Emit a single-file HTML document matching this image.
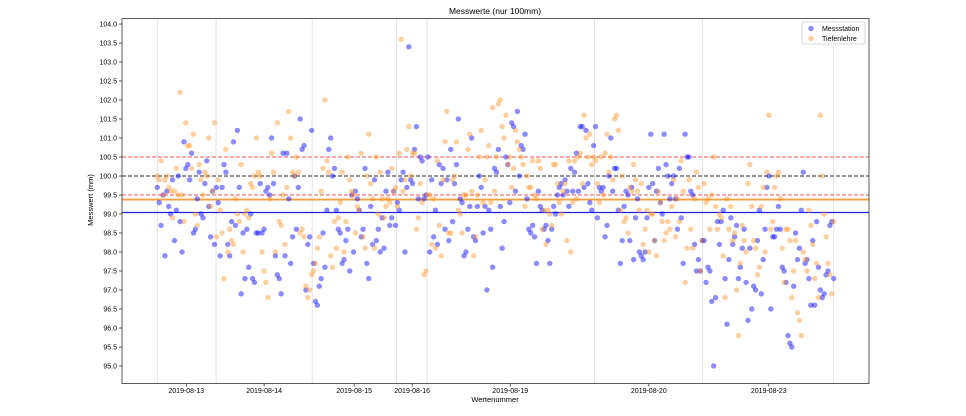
<!DOCTYPE html>
<html><head><meta charset="utf-8"><style>
html,body{margin:0;padding:0;background:#fff;}
svg{display:block;font-family:"Liberation Sans","DejaVu Sans",sans-serif;}
</style></head><body>
<svg id="chart" width="966" height="416" viewBox="0 0 966 416" xmlns="http://www.w3.org/2000/svg">
<rect x="0" y="0" width="966" height="416" fill="#fff"/>
<text x="495" y="14" font-size="8.5" text-anchor="middle" fill="#000">Messwerte (nur 100mm)</text>
<g id="grid"></g>
<g id="refs"></g>
<g id="pts"></g>
<rect x="122" y="18.5" width="747" height="365" fill="none" stroke="#333" stroke-width="0.8"/>
<g id="yax"></g>
<g id="xax"></g>
<text transform="translate(93,200) rotate(-90)" font-size="7.5" text-anchor="middle">Messwert (mm)</text>
<text x="495" y="402" font-size="7.5" text-anchor="middle">Wertenummer</text>
<g>
<rect x="802" y="22" width="63" height="22" fill="#fff" stroke="#ccc" stroke-width="0.8" rx="2"/>
<circle cx="811" cy="28.5" r="2.7" fill="#0000ff" fill-opacity="0.45"/>
<text x="822" y="31" font-size="7">Messstation</text>
<circle cx="811" cy="38.5" r="2.7" fill="#ff8c1a" fill-opacity="0.42"/>
<text x="822" y="41" font-size="7">Tiefenlehre</text>
</g>
</svg>
<script>
const blueValues=[99.7,99.3,98.7,99.5,97.9,99.6,99.2,99.0,99.9,98.3,99.1,100.0,98.8,98.0,100.9,100.2,100.3,99.9,100.6,98.5,98.6,99.4,100.1,99.0,98.9,99.8,100.4,99.2,98.4,99.6,
98.2,99.7,99.3,97.9,99.7,100.3,100.1,98.2,97.9,98.8,100.9,98.7,101.2,99.7,96.9,98.5,97.3,98.6,97.6,99.0,97.3,97.2,98.5,98.5,99.8,
98.5,98.6,99.6,99.7,99.5,101.0,99.8,97.9,97.4,97.3,96.9,100.6,97.9,100.6,99.4,97.7,98.4,100.0,98.6,99.7,101.5,100.7,100.8,97.0,98.2,98.4,101.2,97.7,96.7,96.6,97.1,97.3,98.5,97.6,99.1,
100.7,101.0,100.0,100.2,99.1,98.6,98.5,97.7,97.8,98.3,98.6,97.5,99.5,98.0,99.6,99.4,99.1,98.4,98.6,100.2,97.7,97.3,99.2,98.2,99.9,98.3,98.6,98.0,98.9,98.1,99.6,100.1,98.7,98.9,99.6,98.7,99.3,99.1,99.9,100.1,98.0,99.7,103.4,99.9,99.8,100.7,101.3,99.4,100.5,100.4,
99.4,99.5,100.5,98.0,99.9,98.4,99.1,98.2,100.3,99.8,100.2,98.6,99.9,98.3,100.7,98.8,99.8,100.3,101.5,99.4,99.3,97.9,98.0,98.6,99.2,101.0,98.4,98.3,99.2,100.0,99.7,98.5,99.2,97.0,99.1,98.6,97.6,100.2,100.1,100.7,99.2,98.1,98.8,100.5,100.3,99.3,101.4,101.3,99.6,101.7,100.0,100.8,100.7,101.1,99.4,98.6,
98.5,98.7,98.4,97.7,99.6,99.2,99.1,98.6,98.7,98.3,97.7,98.6,99.2,99.0,99.5,99.7,99.8,99.5,99.9,99.6,99.2,100.2,99.6,100.1,100.6,99.6,101.3,101.3,99.7,101.2,99.8,99.3,99.1,100.8,101.3,98.9,99.7,99.6,99.7,98.4,98.7,100.0,101.0,99.6,100.2,100.2,99.1,97.7,98.3,99.2,99.6,99.5,98.3,99.7,97.8,98.9,99.4,98.0,97.9,97.8,98.0,98.9,99.7,101.1,99.8,98.3,99.6,100.2,99.3,99.0,101.1,100.3,100.0,99.4,99.8,
100.0,99.4,98.6,100.2,98.9,97.7,101.1,100.5,100.5,99.6,99.5,98.2,97.5,97.8,97.5,98.3,98.3,97.2,97.6,97.5,96.7,95.0,96.8,98.8,98.2,98.8,99.1,97.3,96.1,97.8,98.9,98.2,98.4,98.7,97.3,97.6,98.1,98.6,97.2,96.2,98.1,96.5,97.1,97.0,98.3,99.1,96.9,97.8,98.6,99.7,100.0,96.5,
98.4,98.4,98.6,99.2,98.6,97.6,97.5,97.2,95.8,95.6,95.5,97.1,98.5,97.8,98.1,99.1,100.1,97.7,97.8,97.3,96.6,98.3,96.6,98.8,97.6,97.0,96.8,96.9,97.4,97.5,98.7,98.8,97.3];
const orangeValues=[100.0,99.9,100.4,99.5,99.9,100.0,99.7,99.6,98.9,99.6,100.2,99.5,102.2,99.5,98.8,101.4,100.8,100.8,100.2,101.1,99.0,98.7,100.3,99.9,99.5,100.1,100.0,101.0,99.2,99.6,
101.4,98.4,99.9,99.1,98.5,97.3,100.7,98.0,98.6,98.3,98.2,99.4,99.0,98.8,100.3,98.0,99.0,99.1,98.9,99.8,99.7,100.0,101.0,100.1,100.0,
98.0,97.5,97.2,96.8,99.4,100.6,100.1,98.0,101.4,98.8,98.7,99.5,98.2,99.7,101.7,101.0,100.1,100.0,100.5,100.1,98.5,98.6,98.4,97.1,96.8,97.0,97.4,97.5,97.7,98.1,98.4,99.6,100.2,102.0,100.4,
100.1,97.9,97.6,98.8,98.1,98.9,99.3,100.1,98.0,98.8,100.5,99.9,99.6,99.5,98.5,99.2,99.1,100.6,98.4,98.1,100.0,101.1,99.8,99.4,98.1,100.5,99.0,100.1,99.4,98.9,99.2,99.4,99.3,100.2,99.6,99.7,99.2,100.6,103.6,99.6,99.9,100.7,101.3,100.0,100.6,100.6,98.6,98.9,99.8,99.3,
97.4,97.5,99.5,99.5,98.2,99.4,98.1,100.4,98.7,97.9,99.9,100.9,101.7,98.5,98.5,99.9,100.0,100.9,99.1,99.0,98.5,99.5,99.5,100.7,101.1,99.6,97.9,98.4,99.5,100.5,101.2,99.3,99.9,100.5,100.8,99.3,101.8,99.6,100.5,101.9,102.0,101.3,101.0,101.6,100.3,100.5,99.7,100.2,101.2,100.9,100.7,100.5,100.3,99.2,100.0,99.7,
99.7,100.4,99.5,99.4,100.4,100.2,98.6,99.1,98.2,99.1,99.0,98.7,100.3,100.3,99.8,99.3,99.0,99.6,99.8,98.3,100.4,98.0,99.3,100.4,99.4,100.5,100.6,99.8,101.6,101.0,100.5,101.1,100.3,100.5,100.4,99.8,99.3,100.5,99.5,100.6,101.1,100.1,100.5,99.9,101.5,101.6,101.2,99.1,100.0,98.8,98.9,98.5,99.7,99.6,100.3,99.9,99.6,99.1,99.8,98.2,98.6,99.1,98.0,99.0,99.0,98.3,97.9,99.6,99.3,98.8,98.3,98.5,98.8,98.6,99.2,
99.9,98.4,99.4,98.8,100.4,99.6,97.2,98.1,99.9,98.6,98.1,99.4,100.1,99.7,97.5,98.3,99.8,99.3,99.4,98.6,99.5,100.5,99.2,98.6,99.0,98.9,97.9,96.8,99.4,98.6,99.2,98.3,98.5,97.0,95.8,97.7,98.7,98.3,98.0,99.8,100.3,99.2,98.3,98.1,97.4,97.6,99.2,99.7,98.0,100.1,101.6,98.6,
98.8,99.7,100.0,100.1,99.4,98.1,97.2,98.6,98.6,98.3,96.8,97.5,98.3,96.4,96.2,95.8,98.0,97.8,97.5,99.1,98.7,98.2,97.3,97.7,96.8,101.6,100.0,99.0,98.4,97.7,97.4,96.9,98.8];
const yTicks=[95.0,95.5,96.0,96.5,97.0,97.5,98.0,98.5,99.0,99.5,100.0,100.5,101.0,101.5,102.0,102.5,103.0,103.5,104.0];
const xTickIdx=[14.8,54.5,100.4,130,180,250.7,311.9];
const xTickLabels=["2019-08-13","2019-08-14","2019-08-15","2019-08-16","2019-08-19","2019-08-20","2019-08-23"];
const gridIdx=[0,30,79,122,137.6,223,278,345];
const toleranceLines=[99.5,100.5];
const nominalLine=[100.0];
const meanBlue=[99.04];
const meanOrange=[99.38];

const NS="http://www.w3.org/2000/svg";
const X0=122,X1=869,XMIN=-18,XMAX=363;
const Y95=366,Y104=24;
function xs(i){return X0+(i-XMIN)/(XMAX-XMIN)*(X1-X0);}
function ys(v){return Y95+(v-95)/(104-95)*(Y104-Y95);}
function mk(tag,attrs,parent){const e=document.createElementNS(NS,tag);for(const k in attrs)e.setAttribute(k,attrs[k]);parent.appendChild(e);return e;}
const grid=document.getElementById('grid'),refs=document.getElementById('refs'),pts=document.getElementById('pts'),yax=document.getElementById('yax'),xax=document.getElementById('xax');
gridIdx.forEach(g=>{const l=mk('line',{x1:xs(g),x2:xs(g),y1:18.5,y2:383.5,stroke:'#dcdcdc','stroke-width':0.8},grid);

});
function hline(v,color,dash,w,name){const l=mk('line',{x1:X0,x2:X1,y1:ys(v),y2:ys(v),stroke:color,'stroke-width':w},refs);if(dash)l.setAttribute('stroke-dasharray',dash);

}
toleranceLines.forEach(v=>hline(v,'#f05050','4,2',0.9,'tolerance-line'));
nominalLine.forEach(v=>hline(v,'#555','4,2',1.2,'nominal-line'));
meanOrange.forEach(v=>hline(v,'#f0a040',null,1.8,'mean-tiefenlehre-line'));
meanBlue.forEach(v=>hline(v,'#2020ee',null,1.2,'mean-messstation-line'));
function series(vals,color,op,name){const n=blueValues.length;vals.forEach((v,i)=>{const c=mk('circle',{cx:xs(i*(345/(n-1))),cy:ys(v),r:2.7,fill:color,'fill-opacity':op},pts);

});}
series(blueValues,'#0000ff',0.45,'point-messstation');
series(orangeValues,'#ff8c1a',0.42,'point-tiefenlehre');
yTicks.forEach(t=>{const y=ys(t);mk('line',{x1:119,x2:122,y1:y,y2:y,stroke:'#333','stroke-width':0.8},yax);
const tx=mk('text',{x:117,y:y+2.5,'font-size':7,'text-anchor':'end',fill:'#000'},yax);tx.textContent=t.toFixed(1);

});
xTickIdx.forEach((t,k)=>{const x=xs(t);mk('line',{x1:x,x2:x,y1:383.5,y2:386.5,stroke:'#333','stroke-width':0.8},xax);
const tx=mk('text',{x:x,y:393,'font-size':7,'text-anchor':'middle',fill:'#000'},xax);tx.textContent=xTickLabels[k];

});
</script>
</body></html>
